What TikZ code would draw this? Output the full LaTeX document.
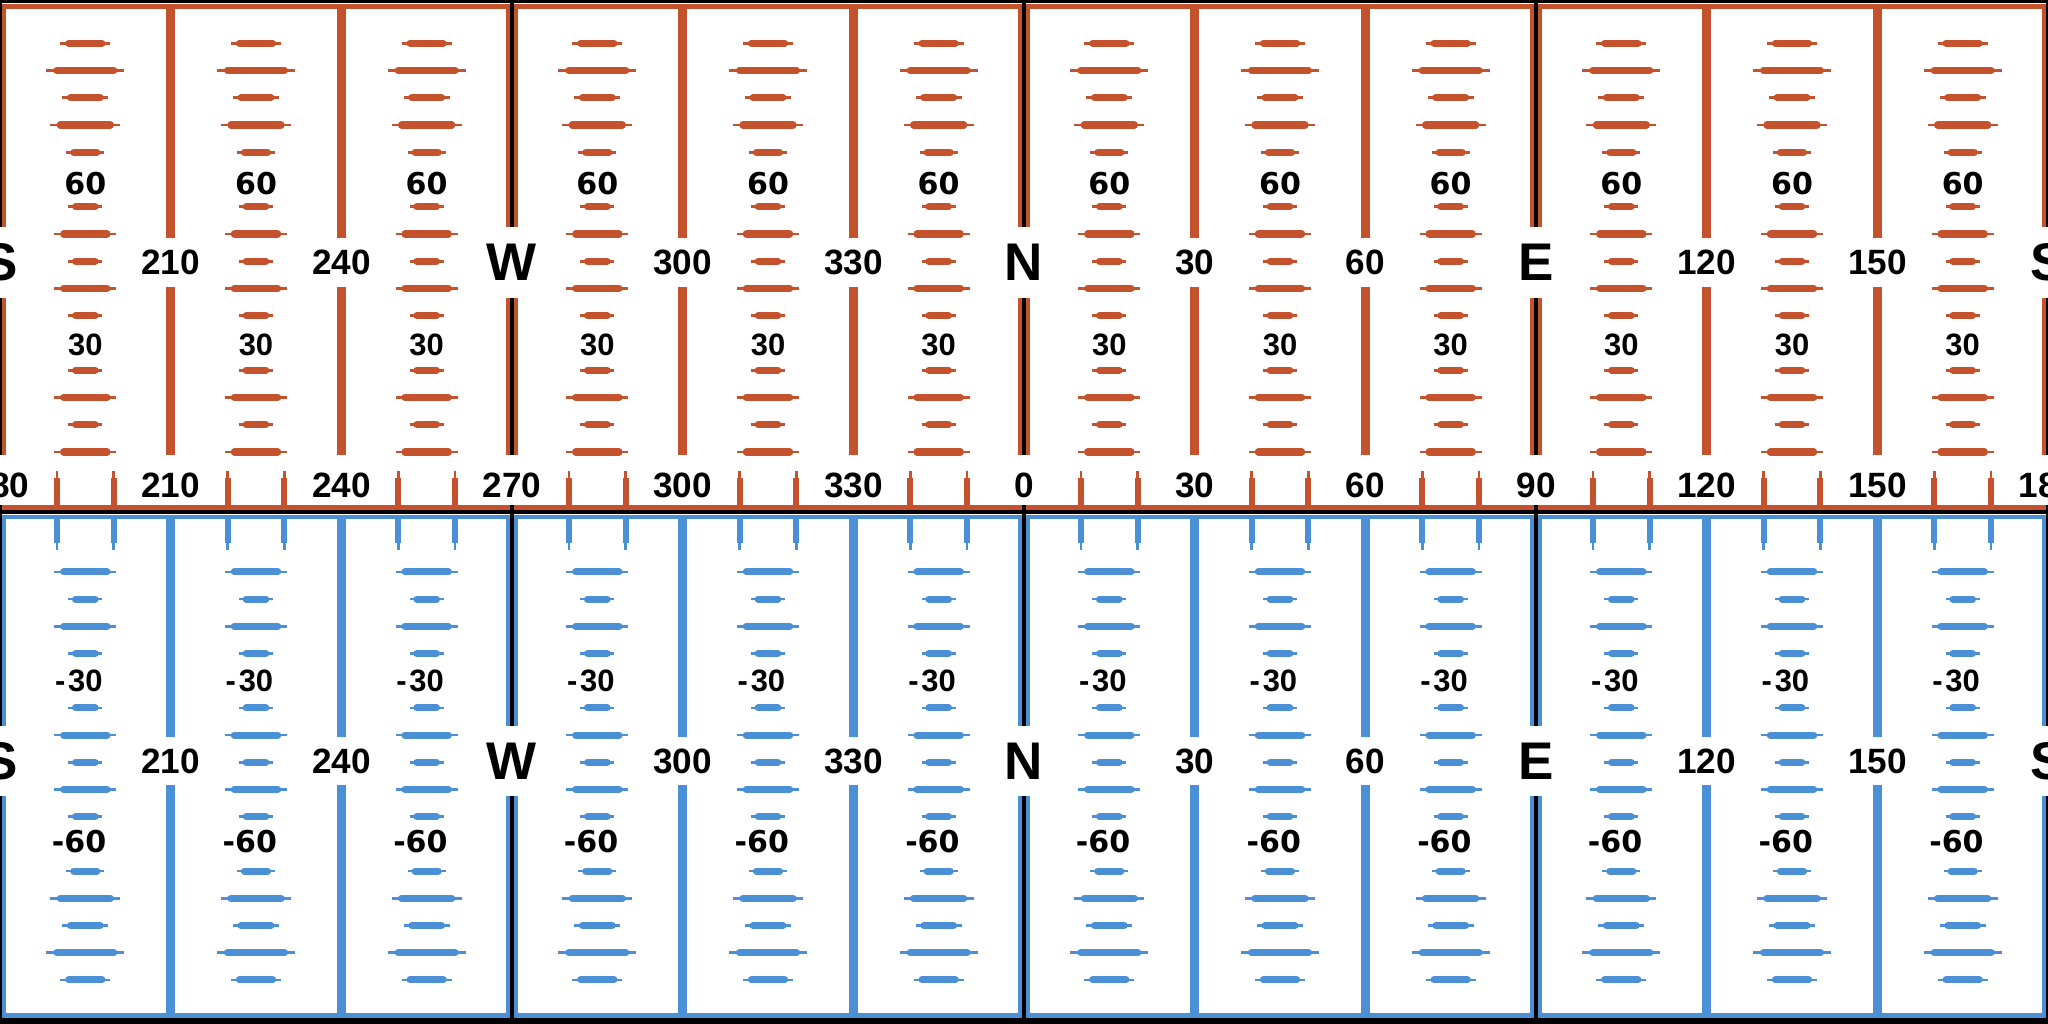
\documentclass[tikz,border=0pt]{standalone}
\usepackage{fontspec}
\setmainfont{Liberation Sans}
\newfontfamily\wideface{DejaVu Sans}
\usetikzlibrary{positioning}
\definecolor{SkyRed}{HTML}{C4532D}
\definecolor{SkyBlue}{HTML}{4B90D4}
\tikzset{
  frameline/.style={line width=3.2pt},
  gridline/.style={line width=6.4pt},
  barthin/.style={line width=1.9pt},
  barthick/.style={line width=5pt, line cap=round},
  ticklo/.style={line width=1.9pt},
  tickhi/.style={line width=4.3pt},
  compass/.style={inner sep=0pt, font=\fontsize{37.7}{38}\selectfont\bfseries},
  azlabel/.style={inner sep=0pt, font=\fontsize{25}{25}\selectfont\bfseries},
  ellabel/.style={inner sep=0pt, font=\fontsize{22}{22}\selectfont\bfseries},
  elwide/.style={inner sep=0pt, font=\wideface\bfseries\fontsize{21.4}{22}\selectfont},
}

\begin{document}
\begin{tikzpicture}[x=0.25mm,y=-0.25mm]
    \useasboundingbox (0,0) rectangle (2048,1024);
    \clip (0,0) rectangle (2048,1024);
    \fill[white] (0,0) rectangle (2048,1024);
    % black frame
    \draw[black, line width=4pt] (0,0) -- (2048,0);
    \draw[black, line width=2.9pt] (0,512) -- (2048,512);
    \draw[black, line width=8pt] (0,1024) -- (2048,1024);
    \foreach \q in {0,...,4}{
      \draw[black, line width=2.9pt] (512*\q,0) -- (512*\q,227) (512*\q,298) -- (512*\q,455)
        (512*\q,505) -- (512*\q,726) (512*\q,796) -- (512*\q,1024);
    }
    % quadrant frames
    \foreach \q in {0,...,3}{
      \draw[SkyRed, frameline] (512*\q+2,6.5) -- (512*\q+510,6.5)
        (512*\q+2,507.5) -- (512*\q+510,507.5);
      \draw[SkyRed, frameline] (512*\q+4,5) -- (512*\q+4,227) (512*\q+4,298) -- (512*\q+4,455)
        (512*\q+508,5) -- (512*\q+508,227) (512*\q+508,298) -- (512*\q+508,455);
      \draw[SkyBlue, frameline] (512*\q+2,517) -- (512*\q+510,517)
        (512*\q+2,1015.5) -- (512*\q+510,1015.5);
      \draw[SkyBlue, frameline] (512*\q+4,517) -- (512*\q+4,726) (512*\q+4,796) -- (512*\q+4,1015)
        (512*\q+508,517) -- (512*\q+508,726) (512*\q+508,796) -- (512*\q+508,1015);
    }
    % 30 degree lines
    \foreach \k in {1,2,4,5,7,8,10,11}{
      \draw[SkyRed, gridline] ({170.6667*\k},6) -- ({170.6667*\k},238)
        ({170.6667*\k},287) -- ({170.6667*\k},455);
      \draw[SkyBlue, gridline] ({170.6667*\k},517) -- ({170.6667*\k},737)
        ({170.6667*\k},785) -- ({170.6667*\k},1015);
    }
    % azimuth ticks
    \foreach \c in {0,...,11}{
      \foreach \j in {1,2}{
        \draw[SkyRed, ticklo] ({170.6667*\c+56.8889*\j},471) -- ({170.6667*\c+56.8889*\j},507);
        \draw[SkyRed, tickhi] ({170.6667*\c+56.8889*\j},478) -- ({170.6667*\c+56.8889*\j},507);
        \draw[SkyBlue, ticklo] ({170.6667*\c+56.8889*\j},517) -- ({170.6667*\c+56.8889*\j},550);
        \draw[SkyBlue, tickhi] ({170.6667*\c+56.8889*\j},517) -- ({170.6667*\c+56.8889*\j},543);
      }
    }
    % altitude bars
    \foreach \c in {0,...,11}{
      \pgfmathsetmacro\xc{85.3333+170.6667*\c}
      \foreach \e/\h in {10/31,15/17,20/31,25/17,35/17,40/31,45/17,50/31,55/17,65/19,70/35,75/23,80/39,85/25}{
        \draw[SkyRed, barthin] ({\xc-\h},{506.5-5.45*\e}) -- ({\xc+\h},{506.5-5.45*\e});
        \draw[SkyRed, barthick] ({\xc-0.85*\h+4.6},{506.5-5.45*\e}) -- ({\xc+0.85*\h-4.6},{506.5-5.45*\e});
        \draw[SkyBlue, barthin] ({\xc-\h},{517.5+5.44*\e}) -- ({\xc+\h},{517.5+5.44*\e});
        \draw[SkyBlue, barthick] ({\xc-0.85*\h+4.6},{517.5+5.44*\e}) -- ({\xc+0.85*\h-4.6},{517.5+5.44*\e});
      }
      \node[elwide] (up60-\c) at (\xc,183.5) {60};
      \node[ellabel] (up30-\c) at (\xc,344.5) {30};
      \node[ellabel] (dn30-\c) at (\xc,681) {\llap{-\kern2pt}30};
      \node[elwide] (dn60-\c) at (\xc,842) {\llap{-}60};
    }
    % compass and azimuth labels
    \foreach \x/\t/\n in {0/S/s0,512/W/w,1024/N/n,1536/E/e,2048/S/s1}{
      \node[compass] (top-\n) at (\x,262.5) {\t};
      \node[compass] (bot-\n) at (\x,761) {\t};
    }
    \foreach \k/\t in {1/210,2/240,4/300,5/330,7/30,8/60,10/120,11/150}{
      \node[azlabel] (topaz-\k) at ({170.6667*\k},262.5) {\t};
      \node[azlabel] (botaz-\k) at ({170.6667*\k},761) {\t};
    }
    \foreach \k/\t in {0/180,1/210,2/240,3/270,4/300,5/330,6/0,7/30,8/60,9/90,10/120,11/150,12/180}{
      \node[azlabel] (hz-\k) at ({170.6667*\k},485) {\t};
    }
  \end{tikzpicture}
\end{document}
